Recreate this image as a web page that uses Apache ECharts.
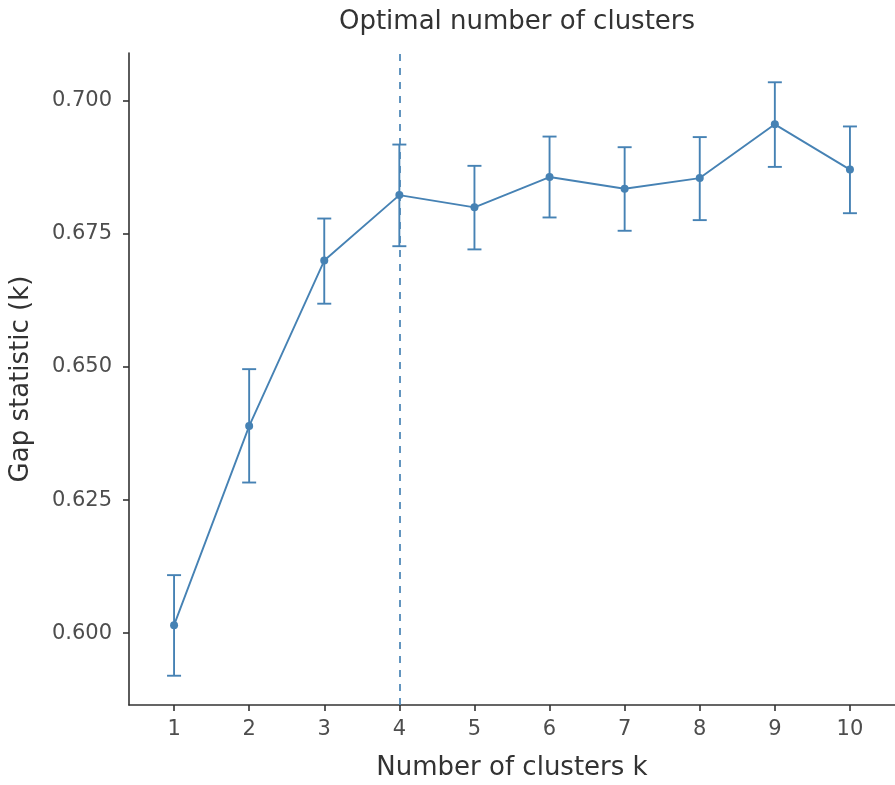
<!DOCTYPE html>
<html>
<head>
<meta charset="utf-8">
<script src="https://cdn.jsdelivr.net/npm/echarts@6/dist/echarts.min.js"></script>
<style>html,body{margin:0;padding:0;background:#fff;}#c{width:895px;height:785px;}</style>
</head>
<body>
<div id="c"></div>
<script>
var kValues = [1, 2, 3, 4, 5, 6, 7, 8, 9, 10];
var gapValues = [0.6015, 0.6389, 0.6700, 0.6823, 0.6800, 0.6857, 0.6835, 0.6855, 0.6956, 0.6871];
var gapLower = [0.5920, 0.6283, 0.6619, 0.6727, 0.6721, 0.6781, 0.6756, 0.6776, 0.6876, 0.6789];
var gapUpper = [0.6109, 0.6496, 0.6779, 0.6918, 0.6878, 0.6933, 0.6913, 0.6932, 0.7035, 0.6952];
var yTicks = [0.600, 0.625, 0.650, 0.675, 0.700];
var optimalK = 4;
var titleText = 'Optimal number of clusters';
var xName = 'Number of clusters k';
var yName = 'Gap statistic (k)';

var col = '#4682B4';
var font = 'DejaVu Sans';
var lineData = kValues.map(function (k, i) { return [k, gapValues[i]]; });
var errData = kValues.map(function (k, i) { return [k, gapLower[i], gapUpper[i]]; });

var chart = echarts.init(document.getElementById('c'), null, {renderer: 'canvas'});
chart.setOption({
  animation: false,
  backgroundColor: '#fff',
  title: {
    text: titleText, left: 512, textAlign: 'center', top: 4,
    textStyle: {fontFamily: font, fontSize: 26, fontWeight: 'normal', color: '#333'}
  },
  grid: {left: 129, right: 0, top: 53, bottom: 80, containLabel: false, outerBoundsMode: 'none'},
  xAxis: {
    type: 'value', min: 0.4, max: 10.6,
    name: xName, nameLocation: 'middle', nameGap: 50,
    nameTextStyle: {fontFamily: font, fontSize: 26, color: '#333'},
    axisLine: {show: true, onZero: false, lineStyle: {color: '#333', width: 1.6}},
    axisTick: {show: true, length: 6, lineStyle: {color: '#333', width: 1.6}, customValues: kValues},
    axisLabel: {fontFamily: font, fontSize: 21, color: '#4d4d4d', margin: 14, customValues: kValues,
      formatter: function (v) { return String(Math.round(v)); }},
    splitLine: {show: false}
  },
  yAxis: {
    type: 'value', min: 0.5865, max: 0.709,
    name: yName, nameLocation: 'middle', nameGap: 95, nameRotate: 90,
    nameTextStyle: {fontFamily: font, fontSize: 26, color: '#333'},
    axisLine: {show: true, onZero: false, lineStyle: {color: '#333', width: 1.6}},
    axisTick: {show: true, length: 6, lineStyle: {color: '#333', width: 1.6}, customValues: yTicks},
    axisLabel: {fontFamily: font, fontSize: 21, color: '#4d4d4d', margin: 17, customValues: yTicks,
      formatter: function (v) { return v.toFixed(3); }},
    splitLine: {show: false}
  },
  series: [
    {
      type: 'custom',
      data: errData,
      z: 3,
      renderItem: function (params, api) {
        var x = api.value(0);
        var lo = api.coord([x, api.value(1)]);
        var hi = api.coord([x, api.value(2)]);
        var hw = 7;
        var st = {stroke: col, lineWidth: 1.9, fill: null};
        return {
          type: 'group',
          children: [
            {type: 'line', shape: {x1: lo[0], y1: lo[1], x2: hi[0], y2: hi[1]}, style: st},
            {type: 'line', shape: {x1: lo[0] - hw, y1: lo[1], x2: lo[0] + hw, y2: lo[1]}, style: st},
            {type: 'line', shape: {x1: hi[0] - hw, y1: hi[1], x2: hi[0] + hw, y2: hi[1]}, style: st}
          ]
        };
      }
    },
    {
      type: 'line',
      data: lineData,
      z: 4,
      symbol: 'circle', symbolSize: 8,
      lineStyle: {color: col, width: 1.9},
      itemStyle: {color: col},
      markLine: {
        silent: true, symbol: ['none', 'none'], label: {show: false},
        lineStyle: {color: col, type: [7, 7], width: 2, opacity: 0.85},
        data: [{xAxis: optimalK}]
      }
    }
  ]
});
</script>
</body>
</html>
